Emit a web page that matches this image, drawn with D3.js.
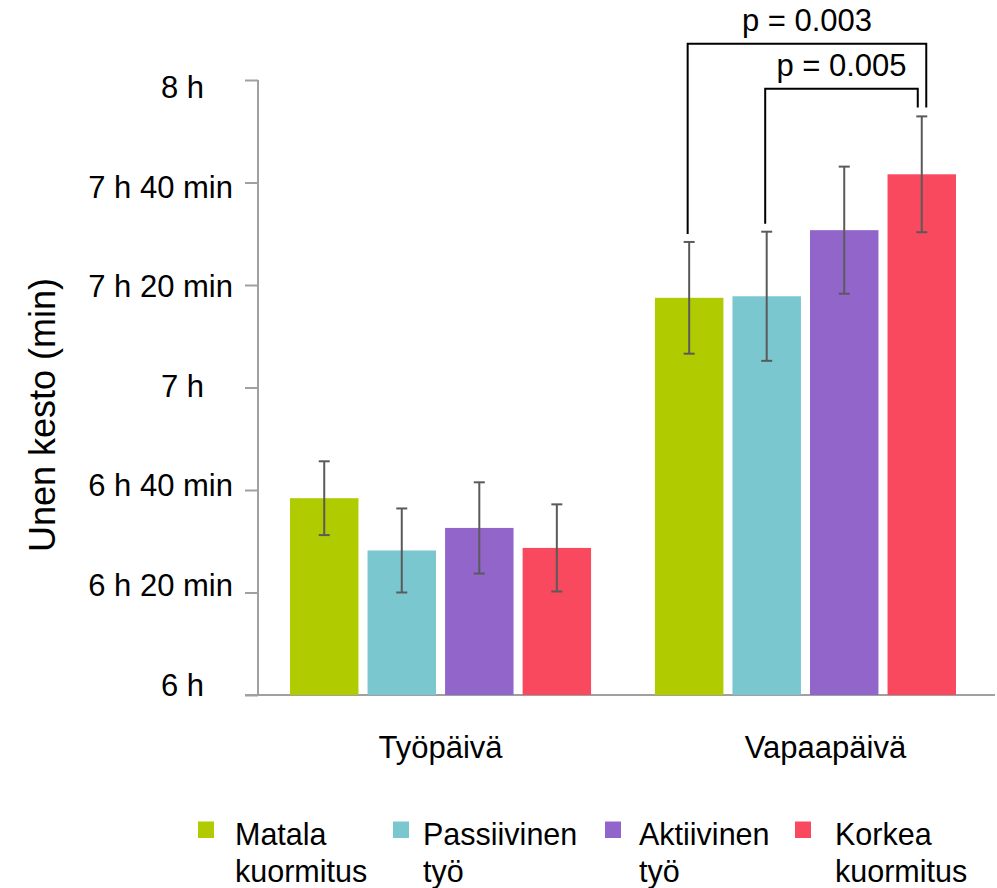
<!DOCTYPE html>
<html>
<head>
<meta charset="utf-8">
<script src="https://cdn.jsdelivr.net/npm/d3@7"></script>
<style>
  body { margin: 0; background: #fff; }
  svg text { font-family: "Liberation Sans", Arial, sans-serif; fill: #000; }
</style>
</head>
<body>
<svg id="chart" width="997" height="888"></svg>
<script>
// data (minutes)
var groups = ["Työpäivä", "Vapaapäivä"];
var series = ["Matala kuormitus", "Passiivinen työ", "Aktiivinen työ", "Korkea kuormitus"];
var legendLines = [["Matala", "kuormitus"], ["Passiivinen", "työ"], ["Aktiivinen", "työ"], ["Korkea", "kuormitus"]];
var colors = ["#b0cb00", "#7ac7d0", "#9165ca", "#f8495f"];
var tyopaiva = [398.4, 388.2, 392.6, 388.7];
var tyopaivaErr = [7.2, 8.2, 8.9, 8.5];
var vapaapaiva = [437.5, 437.8, 450.7, 461.6];
var vapaapaivaErr = [10.9, 12.6, 12.4, 11.3];
var yTicks = [360, 380, 400, 420, 440, 460, 480];
var pLabels = ["p = 0.003", "p = 0.005"];
var brackets = [ // Vapaapäivä, from series -> to series
  { from: 0, to: 3, label: pLabels[0] },
  { from: 1, to: 3, label: pLabels[1] }
];

var svg = d3.select("#chart");

// scales
var y = d3.scaleLinear().domain([360, 480]).range([695, 80]);
// tick labels sit on a slightly tighter spacing than the ticks
var yLabel = d3.scaleLinear().domain([360, 480]).range([695, 97.7]);
var x0 = d3.scaleBand().domain(groups).range([258, 988]).paddingInner(0.175).paddingOuter(0.0877);
var x1 = d3.scaleBand().domain(d3.range(series.length)).range([0, x0.bandwidth()]).paddingInner(0.117);

var rows = [];
groups.forEach(function(g, gi) {
  var vals = gi === 0 ? tyopaiva : vapaapaiva;
  var errs = gi === 0 ? tyopaivaErr : vapaapaivaErr;
  vals.forEach(function(v, i) {
    rows.push({ group: g, s: i, value: v, err: errs[i] });
  });
});

// y axis
var yAxis = d3.axisLeft(y)
  .tickValues(yTicks)
  .tickSize(13)
  .tickFormat(function(d) {
    var h = Math.floor(d / 60), m = d % 60;
    return m === 0 ? h + " h" : h + " h " + m + " min";
  });

var ax = svg.append("g").attr("transform", "translate(258,0)").call(yAxis);
ax.select(".domain").attr("stroke", "#a0a0a0").attr("stroke-width", 2).attr("d", "M0,80V695");
ax.selectAll(".tick line").attr("stroke", "#a0a0a0").attr("stroke-width", 2);
ax.selectAll(".tick text")
  .attr("font-size", 31)
  .attr("font-family", "Liberation Sans, Arial, sans-serif")
  .attr("fill", "#000")
  .attr("dy", null)
  .attr("y", function(d) { return yLabel(d) - y(d); })
  .attr("x", function(d) { return d % 60 === 0 ? -54 : -25; });

// baseline
svg.append("line")
  .attr("x1", 245).attr("x2", 995)
  .attr("y1", y(360)).attr("y2", y(360))
  .attr("stroke", "#a0a0a0").attr("stroke-width", 2);

// bars
svg.selectAll("rect.bar")
  .data(rows)
  .enter()
  .append("rect")
  .attr("class", "bar")
  .attr("x", function(d) { return x0(d.group) + x1(d.s); })
  .attr("y", function(d) { return y(d.value); })
  .attr("width", x1.bandwidth())
  .attr("height", function(d) { return y(360) - y(d.value); })
  .attr("fill", function(d) { return colors[d.s]; });

// error bars
var eb = svg.selectAll("g.err")
  .data(rows)
  .enter()
  .append("g")
  .attr("class", "err")
  .attr("stroke", "#5a5a5a")
  .attr("stroke-width", 2);

function cx(d) { return x0(d.group) + x1(d.s) + x1.bandwidth() / 2; }

eb.append("line")
  .attr("x1", cx).attr("x2", cx)
  .attr("y1", function(d) { return y(d.value + d.err); })
  .attr("y2", function(d) { return y(d.value - d.err); });
eb.append("line")
  .attr("x1", function(d) { return cx(d) - 5.5; }).attr("x2", function(d) { return cx(d) + 5.5; })
  .attr("y1", function(d) { return y(d.value + d.err); })
  .attr("y2", function(d) { return y(d.value + d.err); });
eb.append("line")
  .attr("x1", function(d) { return cx(d) - 5.5; }).attr("x2", function(d) { return cx(d) + 5.5; })
  .attr("y1", function(d) { return y(d.value - d.err); })
  .attr("y2", function(d) { return y(d.value - d.err); });

// significance brackets (Vapaapäivä)
var bracketTop = [43.7, 88.7];
var rightShift = [4.5, -4];
brackets.forEach(function(b, i) {
  var g = groups[1];
  var a = rows.filter(function(r) { return r.group === g && r.s === b.from; })[0];
  var c = rows.filter(function(r) { return r.group === g && r.s === b.to; })[0];
  var xa = cx(a) - 1.5, xc = cx(c) + rightShift[i];
  var ya = y(a.value + a.err) - 8, yc = y(c.value + c.err) - 9;
  svg.append("path")
    .attr("d", "M" + xa + "," + ya + "V" + bracketTop[i] + "H" + xc + "V" + yc)
    .attr("fill", "none")
    .attr("stroke", "#000")
    .attr("stroke-width", 2);
  svg.append("text")
    .attr("x", (xa + xc) / 2)
    .attr("y", bracketTop[i] - 12.5)
    .attr("text-anchor", "middle")
    .attr("font-size", 31)
    .text(b.label);
});

// category labels
var catDx = [0, 20];
svg.selectAll("text.cat")
  .data(groups)
  .enter()
  .append("text")
  .attr("class", "cat")
  .attr("x", function(d, i) { return x0(d) + x0.bandwidth() / 2 + catDx[i]; })
  .attr("y", 758)
  .attr("text-anchor", "middle")
  .attr("font-size", 31)
  .text(function(d) { return d; });

// y title
svg.append("text")
  .attr("transform", "translate(55,415) rotate(-90)")
  .attr("text-anchor", "middle")
  .attr("font-size", 36)
  .text("Unen kesto (min)");

// legend
var legSquareX = [198, 393, 605, 795];
var legTextX = [235, 423, 639, 835];
var leg = svg.selectAll("g.leg")
  .data(series)
  .enter()
  .append("g")
  .attr("class", "leg");

leg.append("rect")
  .attr("x", function(d, i) { return legSquareX[i]; })
  .attr("y", 821.5)
  .attr("width", 16)
  .attr("height", 16.5)
  .attr("fill", function(d, i) { return colors[i]; });

leg.append("text")
  .attr("font-size", 30.5)
  .selectAll("tspan")
  .data(function(d, i) { return legendLines[i].map(function(t) { return { t: t, i: i }; }); })
  .enter()
  .append("tspan")
  .attr("x", function(d) { return legTextX[d.i]; })
  .attr("y", function(d, k) { return 845 + k * 37; })
  .text(function(d) { return d.t; });
</script>
</body>
</html>
